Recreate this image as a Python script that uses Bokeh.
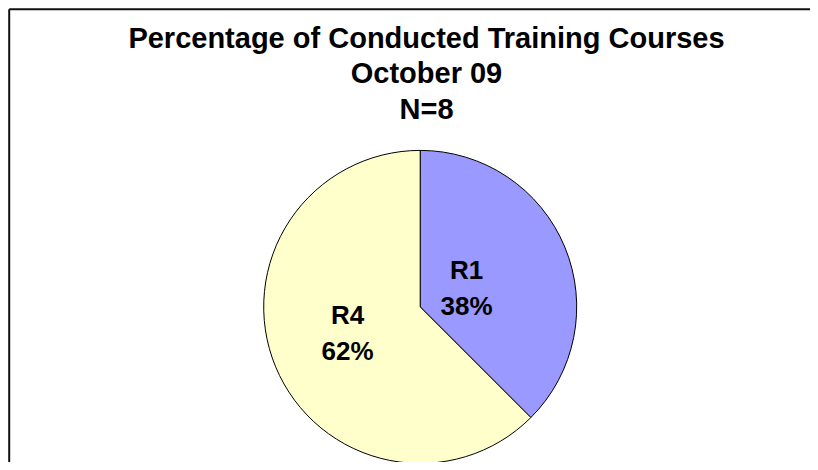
import math
from bokeh.plotting import figure
from bokeh.models import ColumnDataSource
from bokeh.core.properties import value
from bokeh.embed import file_html
from bokeh.resources import INLINE

# ---- data ----
categories = ["R1", "R4"]
counts = [3, 5]
colors = ["#9999FF", "#FFFFCC"]
title_lines = ["Percentage of Conducted Training Courses", "October 09", "N=8"]

# ---- layout: data units = picture pixels (y measured upward from picture bottom) ----
W, H = 810, 462
PH = 470  # picture height


def px(x):
    return x


def py(y):
    return PH - y


cx, cy, R = px(419.7), py(306.4), 156.5
label_angle_deg = [22.7, -159.9]
label_dist = [50.2, 77.4]

total = sum(counts)
starts, ends, pcts = [], [], []
acc = 0
for c in counts:
    starts.append(math.radians(90 - 360.0 * acc / total))
    acc += c
    ends.append(math.radians(90 - 360.0 * acc / total))
    pcts.append("%.0f%%" % (100.0 * c / total))

lx = [cx + d * math.cos(math.radians(a)) for a, d in zip(label_angle_deg, label_dist)]
ly = [cy + d * math.sin(math.radians(a)) for a, d in zip(label_angle_deg, label_dist)]

src = ColumnDataSource(dict(cat=categories, start=starts, end=ends, color=colors,
                            pct=pcts, lx=lx, ly=ly))

p = figure(width=W, height=H, x_range=(0, W), y_range=(PH - H, PH),
           output_backend="svg", toolbar_location=None, tools="",
           min_border=0, outline_line_color=None, background_fill_color="white",
           border_fill_color="white")
p.axis.visible = False
p.grid.visible = False

p.wedge(x=cx, y=cy, radius=R, start_angle="start", end_angle="end", direction="clock",
        fill_color="color", line_color="black", line_width=1, source=src)

font = value("Liberation Sans")
p.text(x="lx", y="ly", text="cat", source=src, text_font=font, text_font_style="bold",
       text_font_size="26px", text_align="center", text_baseline="middle",
       y_offset=-18, text_color="black")
p.text(x="lx", y="ly", text="pct", source=src, text_font=font, text_font_style="bold",
       text_font_size="26px", text_align="center", text_baseline="middle",
       y_offset=18, text_color="black")

title_y = [py(37), py(72.5), py(108)]
tsrc = ColumnDataSource(dict(x=[px(426)] * 3, y=title_y, t=title_lines))
p.text(x="x", y="y", text="t", source=tsrc, text_font=font, text_font_style="bold",
       text_font_size="29px", text_align="center", text_baseline="middle",
       text_color="black")

# chart-area border (top and left edges visible in the picture)
bx, by = px(8.7), py(8.7)
p.segment(x0=[bx, bx], y0=[by, by], x1=[W + 10, bx], y1=[by, PH - H - 10],
          line_color="#111111", line_width=2)

open("out.html", "w").write(file_html(p, INLINE))
